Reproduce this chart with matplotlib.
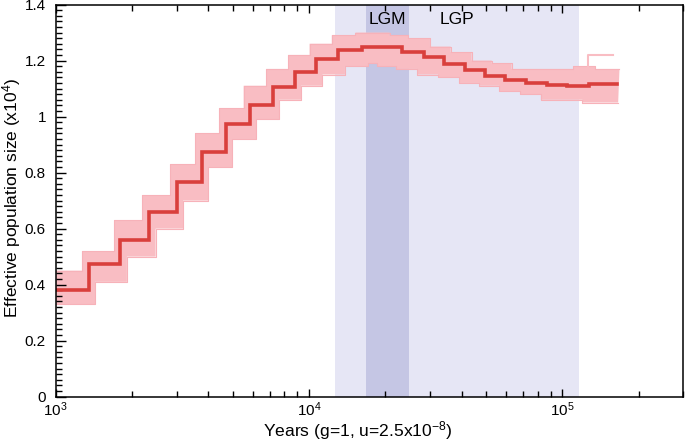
import numpy as np
import matplotlib
matplotlib.use("Agg")
import matplotlib.pyplot as plt
from matplotlib.ticker import MultipleLocator, LogLocator, FixedLocator, NullFormatter

plt.rcParams["font.family"] = ["Liberation Sans", "DejaVu Sans"]
plt.rcParams["mathtext.fontset"] = "custom"
plt.rcParams["mathtext.rm"] = "Liberation Sans"
plt.rcParams["mathtext.it"] = "Liberation Sans:italic"

# step edges (years) and Ne (x10^4) of the main PSMC curve
edges = [1000, 1350, 1800, 2340, 3000, 3780, 4700, 5850, 7190, 8780, 10660,
         13060, 16160, 19670, 23250, 28300, 34170, 41370, 49630, 59530,
         72070, 87000, 104400, 127100, 164500]
ne_main = [0.382, 0.474, 0.560, 0.660, 0.768, 0.874, 0.974, 1.041, 1.105,
           1.159, 1.205, 1.238, 1.250, 1.247, 1.232, 1.213, 1.189, 1.165,
           1.146, 1.129, 1.120, 1.114, 1.110, 1.116]

# bootstrap spread: upper / lower envelopes with their own step edges
edges_hi = [1000, 1270, 1700, 2200, 2830, 3560, 4430, 5520, 6780, 8280, 10050,
            12300, 15250, 20800, 24600, 30000, 36200, 43800, 52600, 63000,
            76300, 92000, 110500, 134500, 168000]
ne_hi = [0.45, 0.52, 0.63, 0.72, 0.83, 0.94, 1.03, 1.11, 1.17, 1.22, 1.26,
         1.29, 1.30, 1.29, 1.28, 1.25, 1.23, 1.20, 1.19, 1.17, 1.17, 1.17,
         1.18, 1.17]
edges_lo = [1000, 1430, 1910, 2480, 3180, 4000, 4980, 6200, 7620, 9300, 11300,
            13850, 17100, 18600, 22000, 26700, 32300, 39100, 46900, 56300,
            68100, 82200, 98600, 120000, 166000]
ne_lo = [0.33, 0.41, 0.50, 0.60, 0.70, 0.82, 0.92, 0.99, 1.06, 1.11, 1.15,
         1.18, 1.19, 1.18, 1.17, 1.15, 1.14, 1.12, 1.11, 1.09, 1.08, 1.06,
         1.06, 1.05]
# one outlying bootstrap run at the oldest times
outlier_x = [118000, 126000, 126000, 158000]
outlier_y = [1.17, 1.17, 1.22, 1.22]

lgp = (12700, 116000)
lgm = (16750, 24900)

fig = plt.figure(figsize=(6.85, 4.42), dpi=100)
ax = fig.add_axes([0.0813, 0.1025, 0.9162, 0.8873])

ax.axvspan(*lgp, color="#E6E6F5", lw=0, zorder=0)
ax.axvspan(*lgm, color="#C5C6E4", lw=0, zorder=0)


def staircase(x_edges, vals):
    xs = np.repeat(x_edges, 2)[1:-1]
    ys = np.repeat(vals, 2)
    return xs, ys


xh, yh = staircase(edges_hi, ne_hi)
xl, yl = staircase(edges_lo, ne_lo)
ax.fill(np.concatenate([xh, xl[::-1]]), np.concatenate([yh, yl[::-1]]),
        color="#F9BDC3", lw=0, zorder=1)
ax.plot(xh, yh, color="#F7B2B9", lw=0.8, zorder=1)
ax.plot(xl, yl, color="#F7B2B9", lw=0.8, zorder=1)
ax.plot(outlier_x, outlier_y, color="#F9BDC3", lw=1.5, zorder=1)

xm, ym = staircase(edges, ne_main)
ax.plot(xm, ym, color="#D93F3C", lw=2.6, zorder=2, solid_joinstyle="miter")

ax.text(np.sqrt(lgm[0] * lgm[1]), 1.345, "LGM", ha="center", va="center", fontsize=12.5)
ax.text(38500, 1.345, "LGP", ha="center", va="center", fontsize=12.5)

ax.set_xscale("log")
ax.set_xlim(1000, 3e5)
ax.set_ylim(0, 1.4)
ax.xaxis.set_major_locator(FixedLocator([1e3, 1e4, 1e5]))
ax.xaxis.set_minor_locator(LogLocator(base=10, subs=np.arange(2, 10)))
ax.xaxis.set_minor_formatter(NullFormatter())
ax.yaxis.set_minor_locator(MultipleLocator(0.02))
ax.set_yticks([0, 0.2, 0.4, 0.6, 0.8, 1.0, 1.2, 1.4])
ax.set_yticklabels(["0", "0.2", "0.4", "0.6", "0.8", "1", "1.2", "1.4"])

ax.tick_params(axis="both", which="both", direction="in", labelsize=11, width=1)
ax.tick_params(axis="x", which="both", top=True, pad=3)
ax.tick_params(axis="y", pad=7)
ax.tick_params(axis="x", which="major", length=6)
ax.tick_params(axis="x", which="minor", length=4)
ax.tick_params(axis="y", which="major", length=7)
ax.tick_params(axis="y", which="minor", length=4)
for s in ax.spines.values():
    s.set_linewidth(1.1)

ax.set_xlabel(r"Years (g=1, u=2.5x10$^{\mathdefault{-8}}$)", fontsize=12.6, va="baseline")
ax.xaxis.set_label_coords(0.481, -0.101)
ax.set_ylabel(r"Effective population size (x10$^{\mathdefault{4}}$)", fontsize=12.5, va="baseline")
ax.yaxis.set_label_coords(-0.061, 0.507)

fig.savefig("out.png", dpi=100)
